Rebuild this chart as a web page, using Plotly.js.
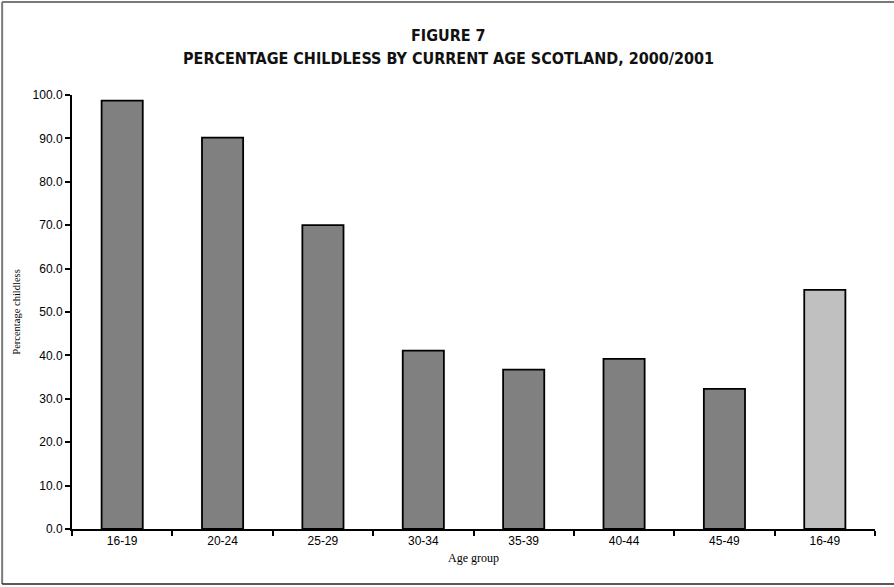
<!DOCTYPE html>
<html>
<head>
<meta charset="utf-8">
<script src="https://cdn.plot.ly/plotly-3.0.1.min.js"></script>
<style>
  html, body { margin: 0; padding: 0; background: #fff; }
  #chart { width: 894px; height: 587px; }
</style>
</head>
<body>
<div id="chart"></div>
<script>
// Age groups and percentage of women who are childless
const ageGroups = ['16-19', '20-24', '25-29', '30-34', '35-39', '40-44', '45-49', '16-49'];
const pctChildless = [98.7, 90.2, 70.0, 41.1, 36.7, 39.2, 32.3, 55.1];
const barColours = ['#808080', '#808080', '#808080', '#808080', '#808080', '#808080', '#808080', '#c0c0c0'];
const yTicks = [0, 10, 20, 30, 40, 50, 60, 70, 80, 90, 100];

const titleFont = "'DejaVu Sans Condensed', 'Liberation Sans Narrow', 'DejaVu Sans', sans-serif";
const serifFont = "'Liberation Serif', 'Times New Roman', serif";

const trace = {
  type: 'bar',
  x: ageGroups,
  y: pctChildless,
  width: 0.41,
  marker: {
    color: barColours,
    line: { color: '#000', width: 1.8 }
  },
  hoverinfo: 'x+y'
};

const layout = {
  width: 894,
  height: 587,
  margin: { l: 72, r: 19, t: 95, b: 58 },
  paper_bgcolor: '#fff',
  plot_bgcolor: '#fff',
  showlegend: false,
  font: { family: "'Liberation Sans', Arial, sans-serif", size: 12, color: '#000' },
  xaxis: {
    type: 'category',
    showline: true,
    linecolor: '#000',
    linewidth: 2,
    ticks: 'outside',
    tickson: 'boundaries',
    ticklen: 5,
    tickwidth: 2,
    tickcolor: '#000',
    showgrid: false,
    zeroline: false,
    fixedrange: true,
    tickfont: { size: 12, color: '#000' },
    title: {
      text: 'Age group',
      font: { family: serifFont, size: 12, color: '#000' },
      standoff: 6
    }
  },
  yaxis: {
    range: [0, 100],
    tickvals: yTicks,
    ticktext: yTicks.map(v => v.toFixed(1)),
    showline: true,
    linecolor: '#000',
    linewidth: 2,
    ticks: 'outside',
    ticklen: 5,
    tickwidth: 2,
    tickcolor: '#000',
    showgrid: false,
    zeroline: false,
    fixedrange: true,
    tickfont: { size: 12, color: '#000' },
    title: {
      text: 'Percentage childless',
      font: { family: serifFont, size: 10.5, color: '#000' },
      standoff: 10
    }
  },
  annotations: [
    {
      text: '<b>FIGURE 7</b>',
      xref: 'paper', yref: 'paper',
      x: 0.469, y: 1.138,
      xanchor: 'center', yanchor: 'middle',
      showarrow: false,
      font: { family: titleFont, size: 16, color: '#111' }
    },
    {
      text: '<b>PERCENTAGE CHILDLESS BY CURRENT AGE SCOTLAND, 2000/2001</b>',
      xref: 'paper', yref: 'paper',
      x: 0.469, y: 1.083,
      xanchor: 'center', yanchor: 'middle',
      showarrow: false,
      font: { family: titleFont, size: 16, color: '#111' }
    }
  ],
  shapes: [
    // outer frame of the figure
    {
      type: 'line', xref: 'paper', yref: 'paper',
      x0: -0.087, x1: 1.06, y0: 1.214, y1: 1.214,
      line: { color: '#7a7a7a', width: 2 }
    },
    {
      type: 'line', xref: 'paper', yref: 'paper',
      x0: -0.087, x1: -0.087, y0: 1.214, y1: -0.127,
      line: { color: '#7a7a7a', width: 2 }
    },
    {
      type: 'line', xref: 'paper', yref: 'paper',
      x0: -0.087, x1: 1.06, y0: -0.127, y1: -0.127,
      line: { color: '#222', width: 1.5 }
    }
  ]
};

Plotly.newPlot('chart', [trace], layout, { displayModeBar: false, staticPlot: true });
</script>
</body>
</html>
